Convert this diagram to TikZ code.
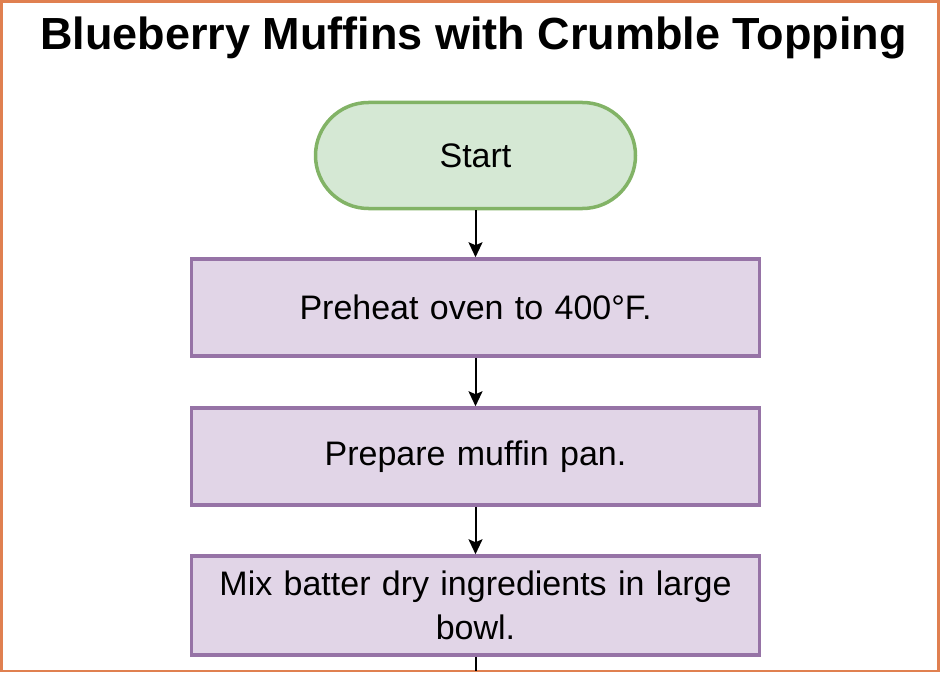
\documentclass[tikz,border=0pt]{standalone}
\usepackage{fontspec}
\setmainfont{Liberation Sans}
\usetikzlibrary{positioning,arrows.meta}

\definecolor{frameorange}{RGB}{224,128,80}
\definecolor{startfill}{RGB}{213,232,212}
\definecolor{startdraw}{RGB}{130,179,102}
\definecolor{stepfill}{RGB}{225,213,231}
\definecolor{stepdraw}{RGB}{150,115,166}

\tikzset{
  startnode/.style={draw=startdraw, fill=startfill, line width=3.5pt, rectangle,
    rounded corners=53pt, minimum width=320pt, minimum height=106pt,
    font=\fontsize{34}{44}\selectfont},
  stepbox/.style={draw=stepdraw, fill=stepfill, line width=3.5pt, rectangle,
    minimum width=568pt, minimum height=97pt, text width=560pt, align=center,
    inner sep=0pt, font=\fontsize{34}{44}\selectfont},
  flow/.style={line width=2pt, -{Stealth[length=15pt,width=14pt,inset=3pt]}}
}

\begin{document}
\begin{tikzpicture}[x=1pt, y=-1pt]
\useasboundingbox (0,0) rectangle (940,674);
\draw[frameorange, line width=2.5pt] (1.5,1.5) rectangle (938.5,671);
\node[anchor=base, font=\bfseries\fontsize{45}{54}\selectfont] (title) at (473.5,50) {Blueberry Muffins with Crumble Topping};
\node[startnode] (start) at (475.5,155.5) {Start};
\node[stepbox] (preheat) at (475.5,307.5) {Preheat oven to 400°F.};
\node[stepbox] (pan) at (475.5,456.5) {Prepare muffin pan.};
\node[stepbox, minimum height=99pt] (dry) at (475.5,605.5) {Mix batter dry ingredients in large\\ bowl.};
\coordinate (cut) at (475.5,671);
\draw[flow] (start) -- (preheat);
\draw[flow] (preheat) -- (pan);
\draw[flow] (pan) -- (dry);
\draw[line width=2pt] (dry) -- (cut);
\end{tikzpicture}
\end{document}
